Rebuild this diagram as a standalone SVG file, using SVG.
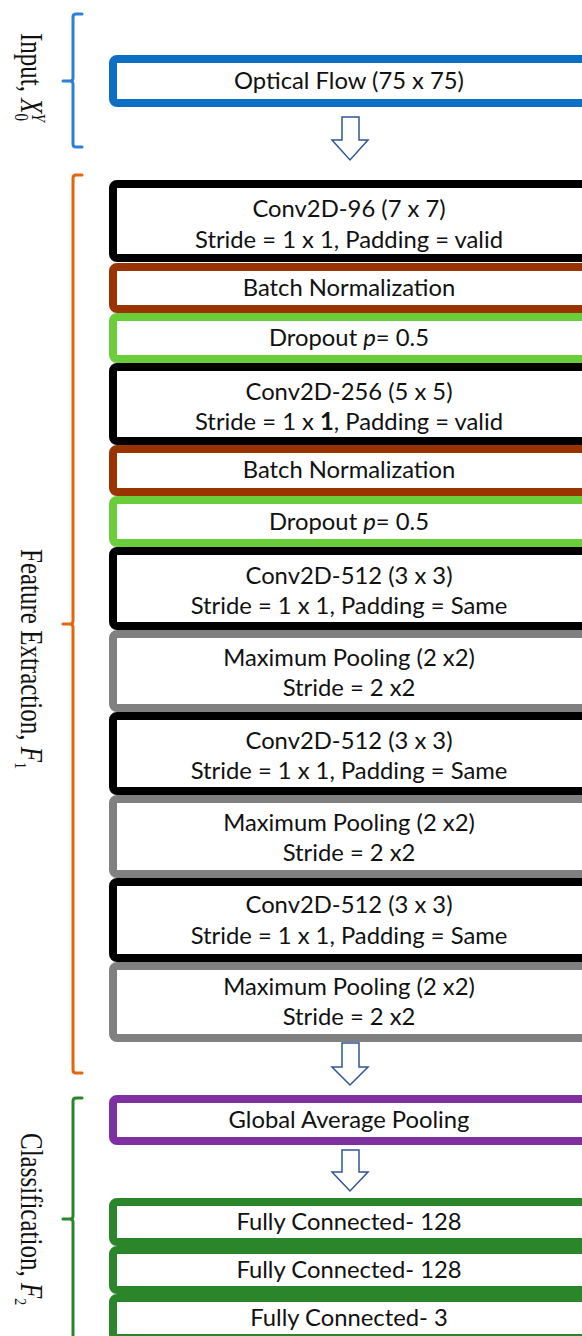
<svg xmlns="http://www.w3.org/2000/svg" width="582" height="1336" viewBox="0 0 582 1336">
  <style>
    .box { fill: #ffffff; stroke-width: 8; }
    .t { font-family: Lato, "Open Sans", sans-serif; font-size: 23.8px; fill: #111; text-anchor: middle; }
    .lbl { font-family: "Liberation Serif", "Times New Roman", serif; font-size: 25px; fill: #111; }
    .brace { fill: none; stroke-width: 3; stroke-linecap: round; stroke-linejoin: round; }
    .arrow { fill: #ffffff; stroke: #2F5597; stroke-width: 1.5; stroke-linejoin: miter; }
    .blue { stroke: #0B6FC6; }
    .black { stroke: #000000; }
    .brown { stroke: #993300; }
    .lgreen { stroke: #6ACD3A; }
    .gray { stroke: #808080; }
    .purple { stroke: #7F30A0; }
    .green { stroke: #2B862B; }
  </style>

  <!-- group braces and their rotated captions -->
  <g id="group-input">
    <path class="brace" stroke="#2F7ED8" d="M82,14 H76 Q73,14 73,17 V78 Q73,81 70,81 H63 M70,81 Q73,81 73,84 V144 Q73,147 76,147 H82"/>
    <text class="lbl" transform="translate(21,33) rotate(90) scale(1,1.25)">Input, <tspan font-style="italic">X</tspan><tspan font-size="15" dy="5">0</tspan><tspan font-size="15" font-style="italic" dx="-7.5" dy="-14">Y</tspan></text>
  </g>
  <g id="group-features">
    <path class="brace" stroke="#E4650C" d="M82,175 H76 Q73,175 73,178 V621 Q73,624 70,624 H63 M70,624 Q73,624 73,627 V1070 Q73,1073 76,1073 H82"/>
    <text class="lbl" transform="translate(21,549) rotate(90) scale(1,1.25)">Feature Extraction, <tspan font-style="italic">F</tspan><tspan font-size="14" dy="5">1</tspan></text>
  </g>
  <g id="group-classification">
    <path class="brace" stroke="#2B862B" d="M82,1098 H76 Q73,1098 73,1101 V1216 Q73,1219 70,1219 H63 M70,1219 Q73,1219 73,1222 V1345"/>
    <text class="lbl" transform="translate(21,1133) rotate(90) scale(1,1.25)">Classification, <tspan font-style="italic">F</tspan><tspan font-size="14" dy="5">2</tspan></text>
  </g>

  <!-- layer stack -->
  <g id="input">
    <rect class="box blue" x="113" y="59" width="480" height="44" rx="4"/>
    <text class="t" x="349" y="89">Optical Flow (75 x 75)</text>
  </g>
  <g id="conv96">
    <rect class="box black" x="113" y="184" width="480" height="74" rx="4"/>
    <text class="t" x="349" y="217">Conv2D-96 (7 x 7)</text>
    <text class="t" x="349" y="248">Stride = 1 x 1, Padding = valid</text>
  </g>
  <g id="bn1">
    <rect class="box brown" x="113" y="267" width="480" height="42" rx="4"/>
    <text class="t" x="349" y="296">Batch Normalization</text>
  </g>
  <g id="dropout1">
    <rect class="box lgreen" x="113" y="317" width="480" height="42" rx="4"/>
    <text class="t" x="349" y="346">Dropout <tspan font-style="italic">p</tspan>= 0.5</text>
  </g>
  <g id="conv256">
    <rect class="box black" x="113" y="367" width="480" height="74" rx="4"/>
    <text class="t" x="349" y="400">Conv2D-256 (5 x 5)</text>
    <text class="t" x="349" y="430">Stride = 1 x <tspan font-weight="bold">1</tspan>, Padding = valid</text>
  </g>
  <g id="bn2">
    <rect class="box brown" x="113" y="449" width="480" height="43" rx="4"/>
    <text class="t" x="349" y="478">Batch Normalization</text>
  </g>
  <g id="dropout2">
    <rect class="box lgreen" x="113" y="500" width="480" height="43" rx="4"/>
    <text class="t" x="349" y="530">Dropout <tspan font-style="italic">p</tspan>= 0.5</text>
  </g>
  <g id="conv512a">
    <rect class="box black" x="113" y="551" width="480" height="75" rx="4"/>
    <text class="t" x="349" y="584">Conv2D-512 (3 x 3)</text>
    <text class="t" x="349" y="614">Stride = 1 x 1, Padding = Same</text>
  </g>
  <g id="pool1">
    <rect class="box gray" x="113" y="634" width="480" height="74" rx="4"/>
    <text class="t" x="349" y="666">Maximum Pooling (2 x2)</text>
    <text class="t" x="349" y="696">Stride = 2 x2</text>
  </g>
  <g id="conv512b">
    <rect class="box black" x="113" y="716" width="480" height="75" rx="4"/>
    <text class="t" x="349" y="749">Conv2D-512 (3 x 3)</text>
    <text class="t" x="349" y="779">Stride = 1 x 1, Padding = Same</text>
  </g>
  <g id="pool2">
    <rect class="box gray" x="113" y="799" width="480" height="75" rx="4"/>
    <text class="t" x="349" y="831">Maximum Pooling (2 x2)</text>
    <text class="t" x="349" y="861">Stride = 2 x2</text>
  </g>
  <g id="conv512c">
    <rect class="box black" x="113" y="882" width="480" height="76" rx="4"/>
    <text class="t" x="349" y="913">Conv2D-512 (3 x 3)</text>
    <text class="t" x="349" y="944">Stride = 1 x 1, Padding = Same</text>
  </g>
  <g id="pool3">
    <rect class="box gray" x="113" y="966" width="480" height="72" rx="4"/>
    <text class="t" x="349" y="995">Maximum Pooling (2 x2)</text>
    <text class="t" x="349" y="1025">Stride = 2 x2</text>
  </g>
  <g id="gap">
    <rect class="box purple" x="113" y="1099" width="480" height="42" rx="4"/>
    <text class="t" x="349" y="1128">Global Average Pooling</text>
  </g>
  <g id="fc1">
    <rect class="box green" x="113" y="1202" width="480" height="40" rx="4"/>
    <text class="t" x="349" y="1230">Fully Connected- 128</text>
  </g>
  <g id="fc2">
    <rect class="box green" x="113" y="1250" width="480" height="40" rx="4"/>
    <text class="t" x="349" y="1278">Fully Connected- 128</text>
  </g>
  <g id="fc3">
    <rect class="box green" x="113" y="1298" width="480" height="40" rx="4"/>
    <text class="t" x="349" y="1326">Fully Connected- 3</text>
  </g>

  <!-- hollow block arrows between stages -->
  <g id="connectors">
    <path class="arrow" d="M342,117 H359 V140 H368 L350,160 L332,140 H342 Z"/>
    <path class="arrow" d="M342,1043 H359 V1067 H368 L350,1085 L332,1067 H342 Z"/>
    <path class="arrow" d="M342,1150 H359 V1172 H368 L350,1191 L332,1172 H342 Z"/>
  </g>
</svg>
